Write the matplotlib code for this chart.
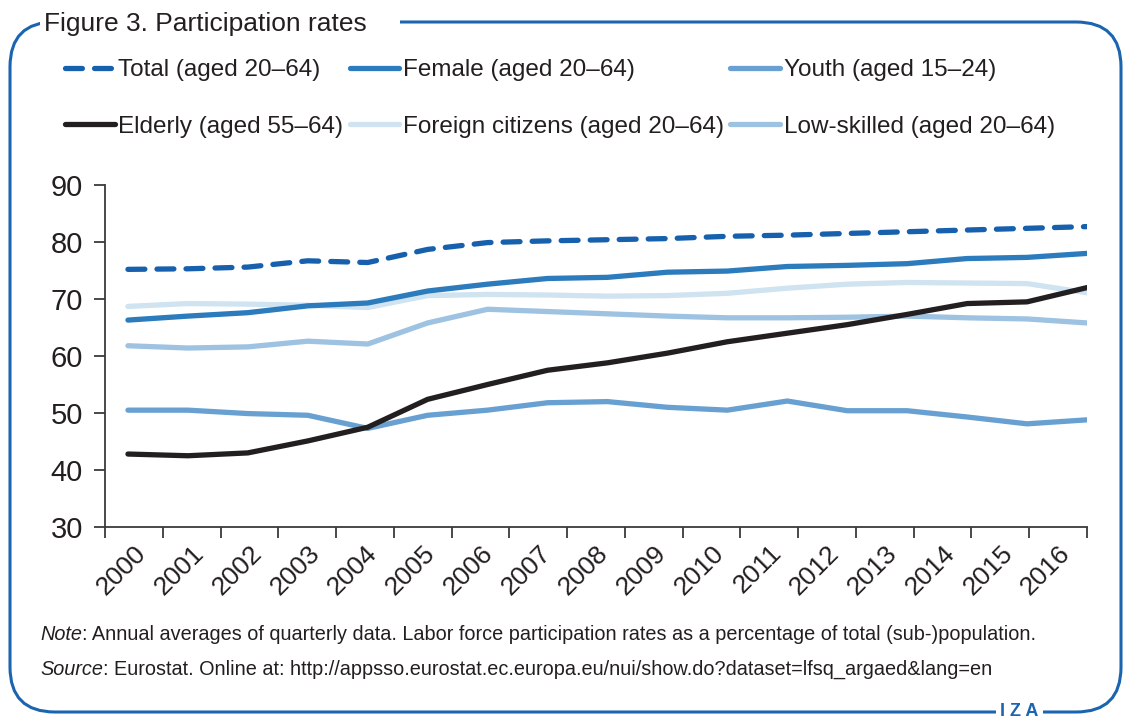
import numpy as np
import matplotlib
matplotlib.use("Agg")
import matplotlib.pyplot as plt
from matplotlib.patches import FancyBboxPatch

plt.rcParams['font.family'] = ['Liberation Sans', 'DejaVu Sans']

# data (percent)
years = [str(y) for y in range(2000, 2017)]
total = [75.2, 75.3, 75.6, 76.7, 76.4, 78.7, 79.9, 80.2, 80.4, 80.6, 81.0, 81.2, 81.5, 81.8, 82.1, 82.4, 82.7]
female = [66.3, 67.0, 67.6, 68.8, 69.3, 71.4, 72.6, 73.6, 73.8, 74.7, 74.9, 75.7, 75.9, 76.2, 77.1, 77.3, 78.0]
youth = [50.5, 50.5, 49.9, 49.6, 47.3, 49.6, 50.5, 51.8, 52.0, 51.0, 50.5, 52.1, 50.4, 50.4, 49.3, 48.1, 48.8]
elderly = [42.8, 42.5, 43.0, 45.1, 47.5, 52.4, 55.0, 57.5, 58.8, 60.5, 62.5, 64.0, 65.5, 67.3, 69.2, 69.5, 72.0]
foreign = [68.7, 69.2, 69.1, 68.9, 68.5, 70.6, 70.8, 70.7, 70.5, 70.6, 71.0, 71.9, 72.6, 72.9, 72.8, 72.7, 71.1]
lowskilled = [61.8, 61.4, 61.6, 62.6, 62.1, 65.8, 68.2, 67.8, 67.4, 67.0, 66.7, 66.7, 66.8, 67.0, 66.7, 66.5, 65.8]

labels = ["Total (aged 20\u201364)", "Female (aged 20\u201364)", "Youth (aged 15\u201324)",
          "Elderly (aged 55\u201364)", "Foreign citizens (aged 20\u201364)", "Low-skilled (aged 20\u201364)"]

c_total = '#1660ad'
c_female = '#2b7bbd'
c_youth = '#68a1d1'
c_elderly = '#231f20'
c_foreign = '#cfe3f0'
c_low = '#9ec2e1'
txt = '#231f20'
frame = '#1a64b0'

fig = plt.figure(figsize=(11.24, 7.2), dpi=100)
ax = fig.add_axes([105 / 1124, 1 - 527 / 720, (1087 - 105) / 1124, (527 - 185) / 720])

x = np.arange(len(years))
lw = 3.8
l_foreign, = ax.plot(x, foreign, color=c_foreign, lw=lw, solid_capstyle='round', solid_joinstyle='round')
l_low, = ax.plot(x, lowskilled, color=c_low, lw=lw, solid_capstyle='round', solid_joinstyle='round')
l_youth, = ax.plot(x, youth, color=c_youth, lw=lw, solid_capstyle='round', solid_joinstyle='round')
l_female, = ax.plot(x, female, color=c_female, lw=lw, solid_capstyle='round', solid_joinstyle='round')
l_elderly, = ax.plot(x, elderly, color=c_elderly, lw=lw, solid_capstyle='round', solid_joinstyle='round')
l_total, = ax.plot(x, total, color=c_total, lw=lw, linestyle=(0, (3.2, 2.3)), dash_capstyle='round')

left = -0.383
right = 16.0
ax.set_xlim(left, right)
ax.set_ylim(30, 90)

for s in ['top', 'right']:
    ax.spines[s].set_visible(False)
for s in ['left', 'bottom']:
    ax.spines[s].set_color('#3a3a3a')
    ax.spines[s].set_linewidth(1.3)

ax.set_yticks(range(30, 91, 10))
ax.tick_params(axis='y', direction='out', length=8, width=1.3, color='#3a3a3a',
               labelsize=21, labelcolor=txt, pad=8)

# category-style axis: ticks on the boundaries, labels in between
edges = np.linspace(left, right, len(years) + 1)
ax.set_xticks(edges)
ax.set_xticklabels([])
ax.tick_params(axis='x', which='major', direction='out', length=8, width=1.3, color='#3a3a3a')
ax.set_xticks((edges[:-1] + edges[1:]) / 2, minor=True)
ax.set_xticklabels(years, minor=True, rotation=45, ha='right', rotation_mode='anchor')
ax.tick_params(axis='x', which='minor', length=0, labelsize=19, labelcolor=txt, pad=10)

handles = [l_total, l_elderly, l_female, l_foreign, l_youth, l_low]
hlabels = [labels[0], labels[3], labels[1], labels[4], labels[2], labels[5]]
fig.legend(handles, hlabels, ncol=3, loc='upper left', bbox_to_anchor=(65 / 1124, 1 - 59 / 720),
           frameon=False, fontsize=17.5, handlelength=2.05, handletextpad=0.15,
           columnspacing=0.25, labelspacing=1.42, borderpad=0, borderaxespad=0, labelcolor=txt)

# rounded frame
box = FancyBboxPatch((10 / 1124, 8 / 720), 1111 / 1124, 690 / 720,
                     boxstyle='round,pad=0,rounding_size=0.04', transform=fig.transFigure,
                     fill=False, edgecolor=frame, lw=2.2, mutation_aspect=1124 / 720)
fig.patches.append(box)

fig.text(44 / 1124, 1 - 24 / 720, "Figure 3. Participation rates\u00a0\u00a0\u00a0\u00a0", fontsize=19, color=txt,
         va='center', ha='left',
         bbox=dict(facecolor='white', edgecolor='none', pad=3))

t1 = fig.text(40 / 1124, 1 - 640 / 720, "Note", fontsize=14.3, style='italic', color=txt)
ax.annotate(": Annual averages of quarterly data. Labor force participation rates as a percentage of total (sub-)population.",
            xy=(1, 0), xycoords=t1, fontsize=14.3, color=txt, va='bottom', annotation_clip=False)
t2 = fig.text(40 / 1124, 1 - 675 / 720, "Source", fontsize=14.3, style='italic', color=txt)
ax.annotate(": Eurostat. Online at: http://appsso.eurostat.ec.europa.eu/nui/show.do?dataset=lfsq_argaed&lang=en",
            xy=(1, 0), xycoords=t2, fontsize=14.3, color=txt, va='bottom', annotation_clip=False)

fig.text(1000 / 1124, 1 - 711 / 720, "I Z A", fontsize=13, color=frame, fontweight='bold',
         va='center', ha='left', bbox=dict(facecolor='white', edgecolor='none', pad=3))

fig.savefig('out.png', dpi=100)
